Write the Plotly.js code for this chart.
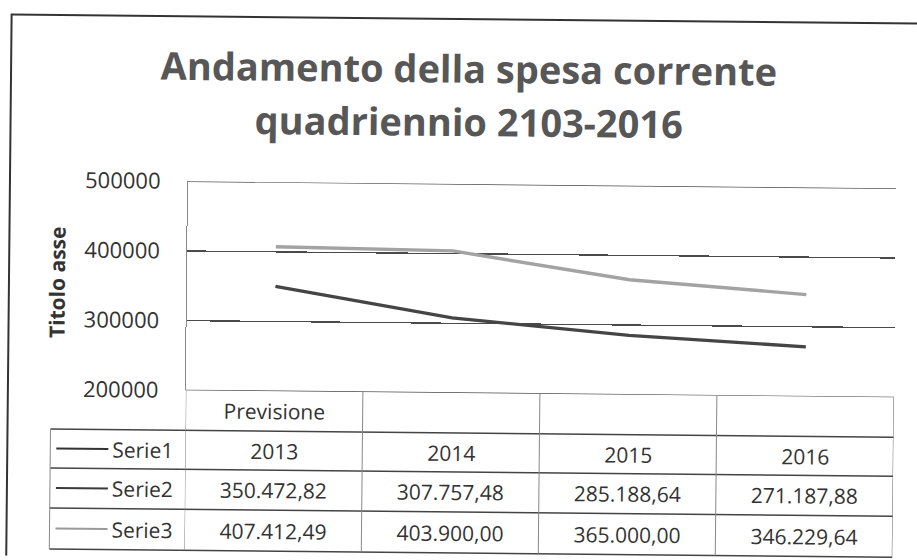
<!DOCTYPE html>
<html>
<head>
<meta charset="utf-8">
<script src="https://cdn.plot.ly/plotly-3.0.1.min.js"></script>
<style>
  html, body { margin: 0; padding: 0; background: #ffffff; overflow: hidden; }
  #chart { width: 917px; height: 560px; transform: rotate(0.57deg); transform-origin: 50% 50%; }
</style>
</head>
<body>
<div id="chart"></div>
<script>
// ---- data ----
const titleLines = ["Andamento della spesa corrente", "quadriennio 2103-2016"];
const categories = ["Previsione", "", "", ""];
const serie1 = [2013, 2014, 2015, 2016];
const serie2 = [350472.82, 307757.48, 285188.64, 271187.88];
const serie3 = [407412.49, 403900.00, 365000.00, 346229.64];
const seriesNames = ["Serie1", "Serie2", "Serie3"];
const yTicks = [200000, 300000, 400000, 500000];

// ---- styles ----
const seriesColors = ["#333333", "#454545", "#a3a3a3"];
const legendColors = ["#333333", "#3a3a3a", "#9a9a9a"];
const FONT = "Open Sans, Noto Sans, sans-serif";
const titleFont = { family: FONT, size: 38, color: "#575757", weight: "bold" };

const W = 917, H = 560;
const L = 187, R = 22, T = 184, B = 167;
const plotH = H - T - B;
const plotW = W - L - R;
const py = p => (H - B - p) / plotH;    // pixel y -> paper y
const px = p => (p - L) / plotW;        // pixel x -> paper x

function fmtIT(v, dec) {
  const s = v.toFixed(dec);
  let [ip, fp] = s.split(".");
  ip = ip.replace(/\B(?=(\d{3})+(?!\d))/g, ".");
  return fp !== undefined ? ip + "," + fp : ip;
}

const xs = categories.map((c, i) => i + 1);
const allSeries = [serie1, serie2, serie3];

const traces = allSeries.map((vals, k) => ({
  type: "scatter",
  mode: "lines",
  x: xs,
  y: vals,
  name: seriesNames[k],
  line: { color: seriesColors[k], width: 3.4 },
  hoverinfo: "skip"
}));

// table geometry (pixel rows)
const rowLines = [433, 472, 512, 553];
const rowCenters = [413, 452.5, 492, 532.5];

const shapes = [];
const annotations = [];

// outer frame (left and top visible)
shapes.push({ type: "rect", xref: "paper", yref: "paper",
  x0: px(9), x1: px(960), y0: py(600), y1: py(19),
  line: { color: "#333333", width: 2 }, fillcolor: "rgba(0,0,0,0)", layer: "below" });

// edge gridlines (top and bottom of y range)
[yTicks[0], yTicks[yTicks.length - 1]].forEach(v => {
  shapes.push({ type: "line", xref: "paper", yref: "y",
    x0: 0, x1: 1, y0: v, y1: v, line: { color: "#4a4a4a", width: 1.3 } });
});

// horizontal table lines
rowLines.forEach((r) => {
  shapes.push({ type: "line", xref: "paper", yref: "paper",
    x0: px(52), x1: 1, y0: py(r), y1: py(r),
    line: { color: "#444444", width: 1.5 } });
});
// left edge of legend column
shapes.push({ type: "line", xref: "paper", yref: "paper",
  x0: px(52), x1: px(52), y0: py(rowLines[0]), y1: py(rowLines[3]),
  line: { color: "#888888", width: 1 } });
// column separators
for (let i = 0; i <= categories.length; i++) {
  shapes.push({ type: "line", xref: "x", yref: "paper",
    x0: i + 0.5, x1: i + 0.5, y0: 0, y1: py(rowLines[3]),
    line: { color: i === categories.length ? "#666666" : "#888888", width: 1 } });
}

// header row (categories)
categories.forEach((c, i) => {
  if (c) annotations.push({ xref: "x", yref: "paper", x: i + 1, y: py(rowCenters[0]),
    text: c, showarrow: false, xanchor: "center", yanchor: "middle",
    font: { family: FONT, size: 21, color: "#333333" } });
});

// data rows
allSeries.forEach((vals, k) => {
  const yc = py(rowCenters[k + 1]);
  vals.forEach((v, i) => {
    annotations.push({ xref: "x", yref: "paper", x: i + 1, y: yc,
      text: k === 0 ? String(v) : fmtIT(v, 2), showarrow: false,
      xanchor: "center", yanchor: "middle",
      font: { family: FONT, size: 21, color: "#333333" } });
  });
  // legend key
  shapes.push({ type: "line", xref: "paper", yref: "paper",
    x0: px(58), x1: px(110), y0: yc, y1: yc,
    line: { color: legendColors[k], width: 2.2 } });
  annotations.push({ xref: "paper", yref: "paper", x: px(112), y: yc,
    text: seriesNames[k], showarrow: false, xanchor: "left", yanchor: "middle",
    font: { family: FONT, size: 21, color: "#333333" } });
});

// y axis title
annotations.push({ xref: "paper", yref: "paper", x: px(57), y: py(286),
  text: "Titolo asse", textangle: -90, showarrow: false,
  xanchor: "center", yanchor: "middle",
  font: { family: FONT, size: 21, color: "#333333", weight: "bold" } });

// second line of the chart title
annotations.push({ xref: "paper", yref: "paper", x: px(0.509 * W), y: py(121),
  text: titleLines[1], showarrow: false, xanchor: "center", yanchor: "middle",
  font: titleFont });

const layout = {
  width: W, height: H,
  margin: { l: L, r: R, t: T, b: B, pad: 0 },
  paper_bgcolor: "#ffffff",
  plot_bgcolor: "#ffffff",
  showlegend: false,
  title: {
    text: titleLines[0],
    font: titleFont,
    xref: "container", x: 0.509, xanchor: "center",
    yref: "container", y: 0.9, yanchor: "top"
  },
  xaxis: {
    range: [0.5, categories.length + 0.5],
    showticklabels: false, showgrid: false, zeroline: false,
    showline: false, ticks: ""
  },
  yaxis: {
    range: [200000, 500000],
    tickvals: yTicks,
    ticktext: yTicks.map(v => String(v)),
    showgrid: true, gridcolor: "#4a4a4a", gridwidth: 1.3,
    zeroline: false,
    showline: true, linecolor: "#888888", linewidth: 1,
    ticks: "", ticklabelstandoff: 22,
    tickfont: { family: FONT, size: 22, color: "#333333" }
  },
  shapes: shapes,
  annotations: annotations
};

Plotly.newPlot("chart", traces, layout, { displayModeBar: false, staticPlot: true });
</script>
</body>
</html>
